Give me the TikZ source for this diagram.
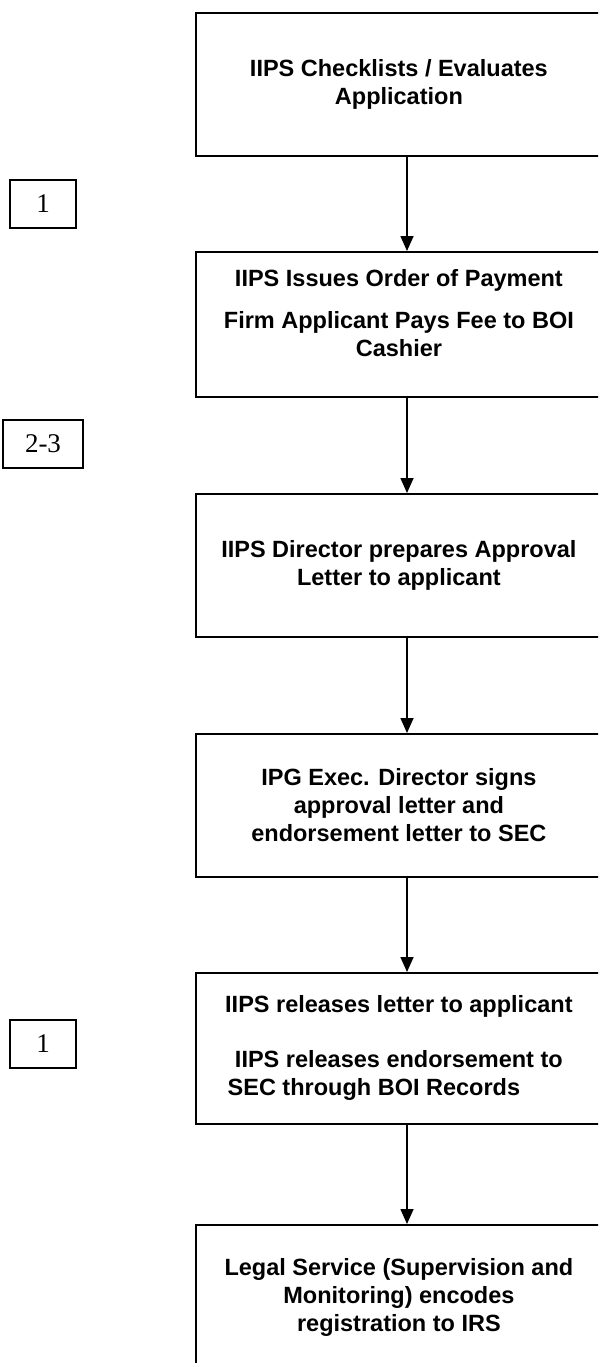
\documentclass[tikz,border=0pt]{standalone}
\usepackage{fontspec}
\setmainfont{Liberation Serif}
\setsansfont{Liberation Sans}
\usetikzlibrary{arrows.meta}

\begin{document}
\begin{tikzpicture}[x=1pt,y=-1pt,
    stepbox/.style={draw, line width=1.8pt, anchor=north west, minimum width=406pt,
        align=center, inner sep=0pt, font=\sffamily\bfseries\fontsize{23.5}{28}\selectfont},
    daybox/.style={draw, line width=1.5pt, minimum height=48pt, inner sep=0pt,
        font=\fontsize{27}{30}\selectfont},
    arr/.style={line width=1.6pt, -{Triangle[length=15pt,width=13pt]}}]
    \useasboundingbox (0,0) rectangle (598,1363);
    \clip (0,0) rectangle (598,1363);
    \coordinate (ax) at (407,0);
    % steps
    \node[stepbox, minimum height=143pt] (b1) at (195,12) {IIPS Checklists / Evaluates\\Application};
    \node[stepbox, minimum height=145pt] (b2) at (195,251) {IIPS Issues Order of Payment\\[14pt]Firm Applicant Pays Fee to BOI\\Cashier\\[-5pt]\mbox{}};
    \node[stepbox, minimum height=143pt] (b3) at (195,493) {IIPS Director prepares Approval\\Letter to applicant};
    \node[stepbox, minimum height=143pt] (b4) at (195,733) {IPG Exec. Director signs\\approval letter and\\endorsement letter to SEC};
    \node[stepbox, minimum height=151pt] (b5) at (195,972) {IIPS releases letter to applicant\\[27pt]IIPS releases endorsement to\\\hspace*{-50pt}SEC through BOI Records};
    \node[stepbox, minimum height=145pt] (b6) at (195,1224) {Legal Service (Supervision and\\Monitoring) encodes\\registration to IRS};
    % days
    \node[daybox, minimum width=66pt] (d1) at (43,204) {1};
    \node[daybox, minimum width=80pt] (d2) at (43,444) {2-3};
    \node[daybox, minimum width=66pt] (d3) at (43,1044) {1};
    % arrows
    \draw[arr] (b1.south -| ax) -- (b2.north -| ax);
    \draw[arr] (b2.south -| ax) -- (b3.north -| ax);
    \draw[arr] (b3.south -| ax) -- (b4.north -| ax);
    \draw[arr] (b4.south -| ax) -- (b5.north -| ax);
    \draw[arr] (b5.south -| ax) -- (b6.north -| ax);
\end{tikzpicture}
\end{document}
